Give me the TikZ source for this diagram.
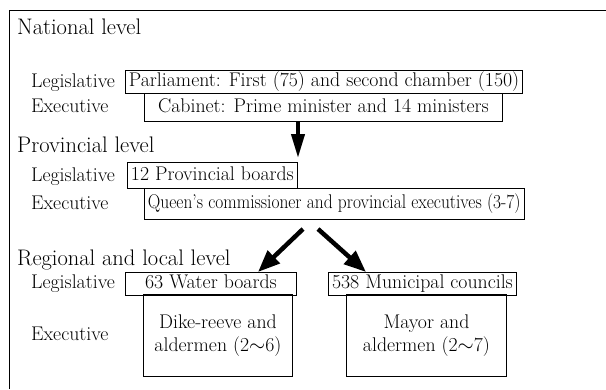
\documentclass[tikz,border=0pt]{standalone}
\usepackage{fontspec}
\usepackage{graphicx}
\usetikzlibrary{arrows.meta}
\tikzset{tier/.style={anchor=base west,inner sep=0pt,font=\fontsize{22.5}{27}\selectfont}}
\tikzset{branch/.style={anchor=base west,inner sep=0pt,font=\fontsize{19.8}{23}\selectfont}}
\tikzset{organ/.style={draw,line width=0.9pt,anchor=north west,inner xsep=3.5pt,inner ysep=2pt,
  text height=14pt,text depth=4.5pt,font=\fontsize{19.8}{23}\selectfont}}
\tikzset{twoline/.style={organ,align=center,text height=,text depth=,font=\fontsize{19.8}{23.5}\selectfont}}
\tikzset{bigarrow/.style={line width=4.5pt,-{Triangle[length=22pt,width=17pt]}}}

\begin{document}
\begin{tikzpicture}[x=1pt,y=-1pt]
\useasboundingbox (0,0) rectangle (606,389);
\draw[line width=1pt] (9.5,389) -- (9.5,10) -- (606,10);

\node[tier] (nat) at (17,34) {National level};
\node[branch] (natleg) at (31,87) {Legislative};
\node[branch] (natexe) at (31,112.5) {Executive};
\node[organ,minimum height=23pt] (parl) at (125,70) {Parliament: First (75) and second chamber (150)};
\node[organ,minimum width=358pt,minimum height=28pt] (cab) at (144,93) {Cabinet: Prime minister and 14 ministers};

\node[tier] (prov) at (17,152.5) {Provincial level};
\node[branch] (provleg) at (31,181) {Legislative};
\node[branch] (provexe) at (31,209) {Executive};
\node[organ,minimum height=26pt] (boards) at (127,162) {12 Provincial boards};
\node[organ,minimum width=378pt,minimum height=31pt] (queen) at (144,188) {\scalebox{0.88}[1]{Queen’s commissioner and provincial executives (3-7)}};

\node[tier] (reg) at (17,265.5) {Regional and local level};
\node[branch] (regleg) at (31,288.5) {Legislative};
\node[branch] (regexe) at (31,340) {Executive};
\node[organ,minimum width=171pt,minimum height=22pt] (water) at (125,272) {63 Water boards};
\node[twoline,minimum width=149pt,minimum height=82pt] (dike) at (143,294) {Dike-reeve and\\aldermen (2$\sim$6)};
\node[organ,minimum width=188pt,minimum height=22pt] (muni) at (328,272) {538 Municipal councils};
\node[twoline,minimum width=160pt,minimum height=82pt] (mayor) at (346,294) {Mayor and\\aldermen (2$\sim$7)};

\coordinate (down) at (298,158);
\coordinate (tl) at (303,229);
\coordinate (hl) at (258,0);
\coordinate (tr) at (318,229);
\coordinate (hr) at (366,0);
\draw[bigarrow,line width=4pt,-{Triangle[length=24pt,width=13pt]}] (cab.south -| down) -- (down);
\draw[bigarrow] (tl) -- (water.north -| hl);
\draw[bigarrow] (tr) -- (muni.north -| hr);
\end{tikzpicture}
\end{document}
